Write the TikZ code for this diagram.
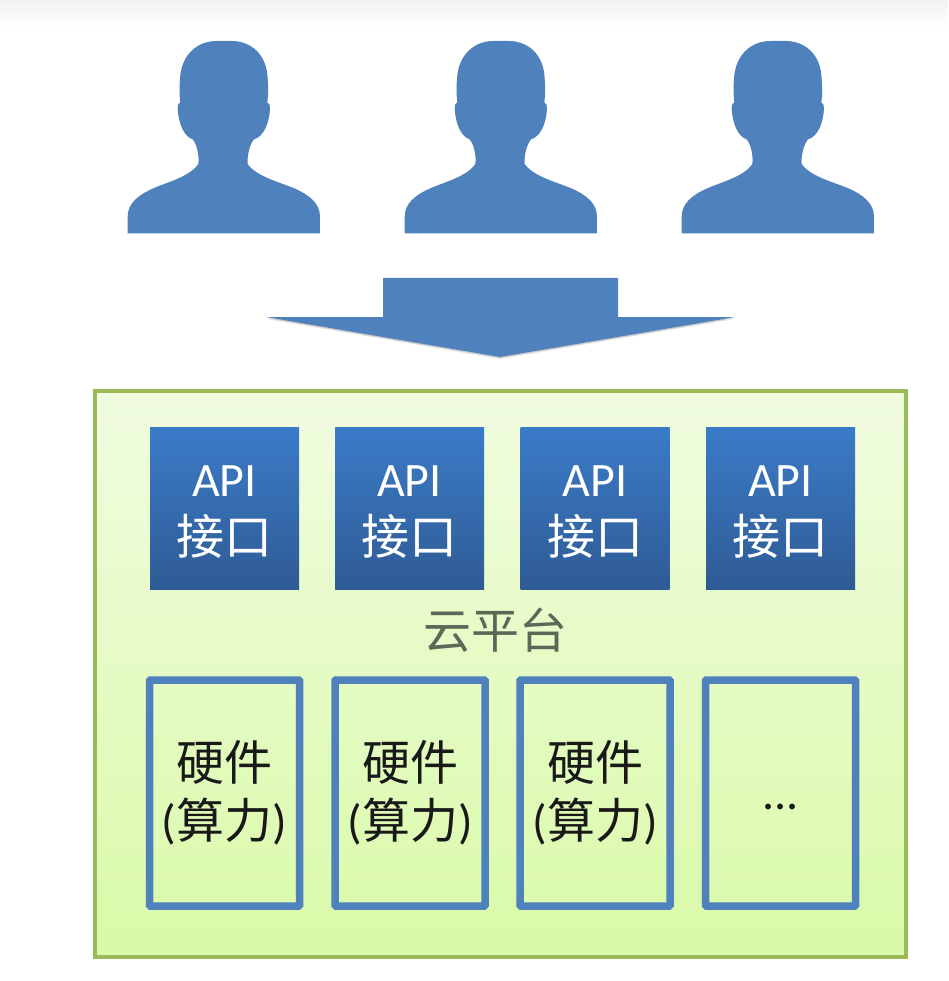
\documentclass[tikz,border=0pt]{standalone}
\usepackage{fontspec}
\setmainfont{Carlito}
\newfontfamily\cjk{Noto Sans CJK SC}
\definecolor{steel}{HTML}{4F81BD}
\definecolor{framegreen}{HTML}{9BBB59}
\newcommand{\apilabel}{\rule{0pt}{39pt}API\\[4pt]{\cjk 接口}}
\newcommand{\hwlabel}{{\cjk 硬件}\\[4pt]({\cjk 算力})}
\tikzset{
  x=1pt,y=-1pt,
  apibox/.style={inner sep=0pt,minimum width=149pt,minimum height=162pt,top color=apitop,bottom color=apibot,text=white,align=center,font=\fontsize{48}{54}\selectfont},
  hwbox/.style={draw=steel,line width=7.5pt,rounded corners=1pt,fill=none,inner sep=0pt,minimum width=150pt,minimum height=226pt,text=black!90,align=center,font=\fontsize{48}{54}\selectfont},
  person/.pic={
    \fill[steel,scale=0.3333] (53,640) -- (53,590)
      .. controls (53,550) and (85,525) .. (130,505)
      .. controls (170,487) and (240,470) .. (265,432)
      .. controls (268,410) and (262,375) .. (248,358)
      .. controls (222,350) and (205,310) .. (203,265)
      .. controls (203,255) and (205,250) .. (211,247)
      .. controls (208,225) and (208,200) .. (210,175)
      .. controls (215,100) and (265,63) .. (320,63)
      -- (365,63)
      .. controls (420,63) and (470,100) .. (473,175)
      .. controls (475,200) and (475,225) .. (472,247)
      .. controls (478,250) and (480,255) .. (480,265)
      .. controls (478,310) and (461,350) .. (432,358)
      .. controls (418,375) and (411,410) .. (413,432)
      .. controls (440,470) and (510,487) .. (553,505)
      .. controls (598,525) and (630,550) .. (630,590)
      -- (630,640) -- cycle;
  }
}
\definecolor{apitop}{HTML}{3B7BC8}
\definecolor{apibot}{HTML}{2F5B94}
\definecolor{framebot}{RGB}{217,250,168}
\definecolor{frametop}{RGB}{241,252,224}
\definecolor{cloudtext}{RGB}{90,104,88}
\definecolor{topbar}{RGB}{242,242,242}
\begin{document}
\begin{tikzpicture}
\useasboundingbox (0,0) rectangle (948,981);
\fill[white] (0,0) rectangle (948,981);
\shade[top color=topbar,bottom color=white] (0,0) rectangle (948,29);
\pic at (110,20) {person};
\pic at (387,20) {person};
\pic at (664,20) {person};
% arrow shadow and arrow
\fill[black,opacity=0.10] (266,319) -- (500,359) -- (735,319) -- cycle;
\fill[black,opacity=0.12] (266,318) -- (500,358) -- (735,318) -- cycle;
\fill[steel] (383,278) -- (618,278) -- (618,317) -- (735,317) -- (500,357) -- (266,317) -- (383,317) -- cycle;
% platform
\node[draw=framegreen,line width=4.5pt,top color=frametop,bottom color=framebot,inner sep=0pt,minimum width=811pt,minimum height=566pt] (platform) at (500.5,674) {};
\node[apibox] (api1) at (224.5,508) {\apilabel};
\node[apibox] (api2) at (409.5,508) {\apilabel};
\node[apibox] (api3) at (595,508) {\apilabel};
\node[apibox] (api4) at (780.5,508) {\apilabel};
\node[text=cloudtext,font=\fontsize{48}{54}\selectfont\cjk] (cloud) at (495,630) {云平台};
\node[hwbox] (hw1) at (224.5,793) {\hwlabel};
\node[hwbox] (hw2) at (410,793) {\hwlabel};
\node[hwbox] (hw3) at (595,793) {\hwlabel};
\node[hwbox] (hw4) at (780.5,793) {\rule{0pt}{34pt}...};
\end{tikzpicture}
\end{document}
